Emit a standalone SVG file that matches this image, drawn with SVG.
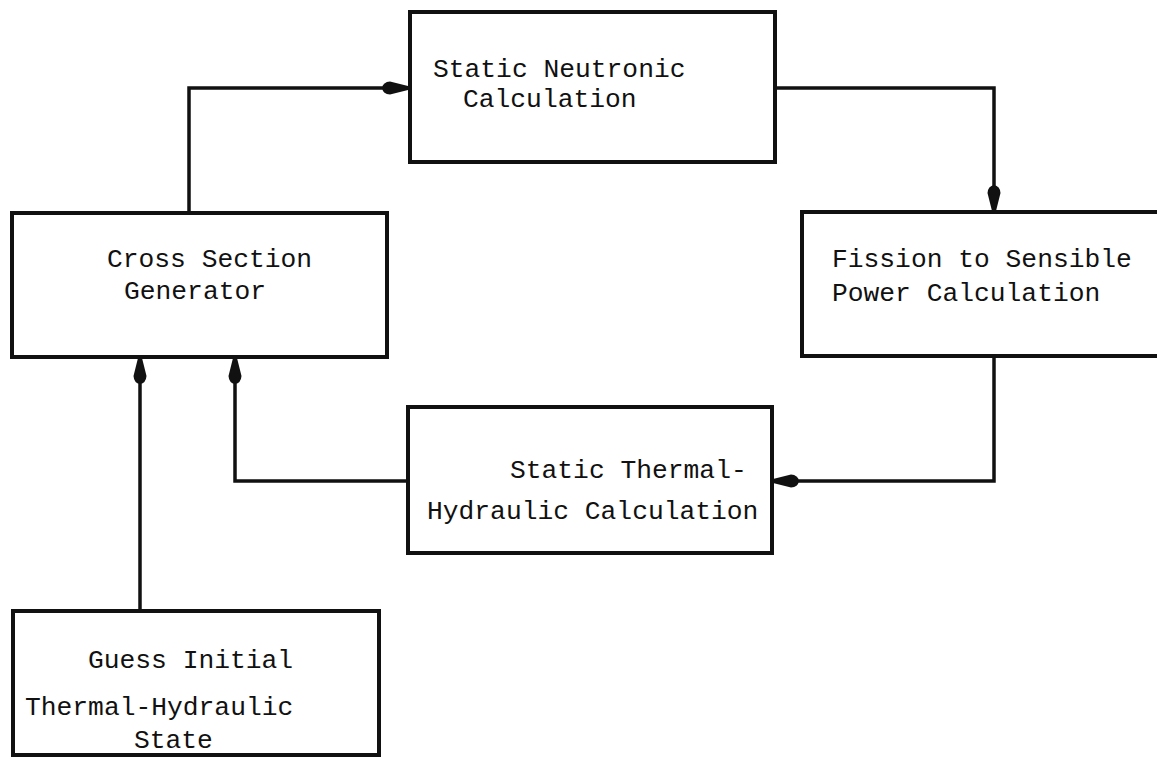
<svg xmlns="http://www.w3.org/2000/svg" width="1157" height="758" viewBox="0 0 1157 758">
<style>
.box{fill:#fff;stroke:#111;stroke-width:4}
.lbl{font-family:"Liberation Mono","Courier New",monospace;font-size:26.3px;fill:#111}
.conn{fill:none;stroke:#111;stroke-width:3.5;stroke-linejoin:miter}
</style>
<defs>
<marker id="ah" viewBox="0 0 26 14" refX="26" refY="7" markerWidth="26" markerHeight="14" markerUnits="userSpaceOnUse" orient="auto">
<path d="M0,7 Q1,1 8,0.5 L26,5 L26,9 L8,13.5 Q1,13 0,7 z" fill="#111"/>
</marker>
</defs>
<rect width="1157" height="758" fill="#fff"/>
<g id="connectors">
<path class="conn" d="M189,213 V88 H408" marker-end="url(#ah)"/>
<path class="conn" d="M775,88 H994 V211" marker-end="url(#ah)"/>
<path class="conn" d="M994,356 V481 H773" marker-end="url(#ah)"/>
<path class="conn" d="M408,481 H235 V358" marker-end="url(#ah)"/>
<path class="conn" d="M140,611 V358" marker-end="url(#ah)"/>
</g>
<g id="neutronic">
<rect class="box" x="410" y="12" width="365" height="150"/>
<text class="lbl" x="433" y="77">Static Neutronic</text>
<text class="lbl" x="463" y="107">Calculation</text>
</g>
<g id="cross-section">
<rect class="box" x="12" y="213" width="375" height="144"/>
<text class="lbl" x="107" y="267">Cross Section</text>
<text class="lbl" x="124" y="299">Generator</text>
</g>
<g id="fission">
<rect class="box" x="802" y="212" width="360" height="144"/>
<text class="lbl" x="832" y="267">Fission to Sensible</text>
<text class="lbl" x="832" y="301">Power Calculation</text>
</g>
<g id="thermal">
<rect class="box" x="408" y="407" width="364" height="146"/>
<text class="lbl" x="510" y="478">Static Thermal-</text>
<text class="lbl" x="427" y="519">Hydraulic Calculation</text>
</g>
<g id="guess">
<rect class="box" x="13" y="611" width="366" height="144"/>
<text class="lbl" x="88" y="668">Guess Initial</text>
<text class="lbl" x="25" y="715">Thermal-Hydraulic</text>
<text class="lbl" x="134" y="748">State</text>
</g>
</svg>
